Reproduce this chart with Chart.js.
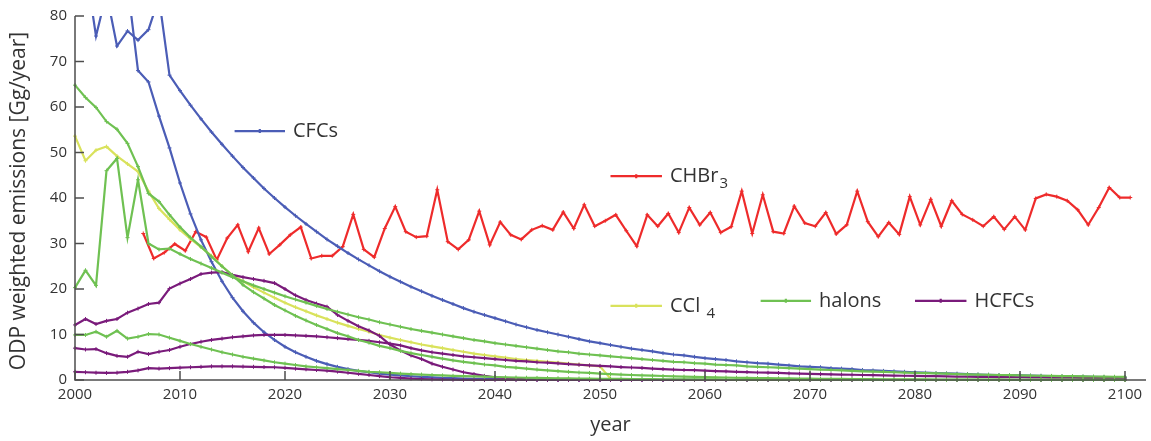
<!DOCTYPE html>
<html>
<head>
<meta charset="utf-8">
<script src="https://cdn.jsdelivr.net/npm/chart.js@4.4.1/dist/chart.umd.min.js"></script>
<style>
  html, body { margin: 0; padding: 0; background: #fff; }
  canvas { display: block; }
</style>
</head>
<body>
<canvas id="chart" width="1151" height="441"></canvas>
<script>
// ---------- data ----------
const years = [
  2000, 2001, 2002, 2003, 2004, 2005, 2006, 2007, 2008, 2009,
  2010, 2011, 2012, 2013, 2014, 2015, 2016, 2017, 2018, 2019,
  2020, 2021, 2022, 2023, 2024, 2025, 2026, 2027, 2028, 2029,
  2030, 2031, 2032, 2033, 2034, 2035, 2036, 2037, 2038, 2039,
  2040, 2041, 2042, 2043, 2044, 2045, 2046, 2047, 2048, 2049,
  2050, 2051, 2052, 2053, 2054, 2055, 2056, 2057, 2058, 2059,
  2060, 2061, 2062, 2063, 2064, 2065, 2066, 2067, 2068, 2069,
  2070, 2071, 2072, 2073, 2074, 2075, 2076, 2077, 2078, 2079,
  2080, 2081, 2082, 2083, 2084, 2085, 2086, 2087, 2088, 2089,
  2090, 2091, 2092, 2093, 2094, 2095, 2096, 2097, 2098, 2099,
  2100
];

const chbr3Years = [
  2006.5, 2007.5, 2008.5, 2009.5, 2010.5, 2011.5, 2012.5, 2013.5, 2014.5, 2015.5,
  2016.5, 2017.5, 2018.5, 2019.5, 2020.5, 2021.5, 2022.5, 2023.5, 2024.5, 2025.5,
  2026.5, 2027.5, 2028.5, 2029.5, 2030.5, 2031.5, 2032.5, 2033.5, 2034.5, 2035.5,
  2036.5, 2037.5, 2038.5, 2039.5, 2040.5, 2041.5, 2042.5, 2043.5, 2044.5, 2045.5,
  2046.5, 2047.5, 2048.5, 2049.5, 2050.5, 2051.5, 2052.5, 2053.5, 2054.5, 2055.5,
  2056.5, 2057.5, 2058.5, 2059.5, 2060.5, 2061.5, 2062.5, 2063.5, 2064.5, 2065.5,
  2066.5, 2067.5, 2068.5, 2069.5, 2070.5, 2071.5, 2072.5, 2073.5, 2074.5, 2075.5,
  2076.5, 2077.5, 2078.5, 2079.5, 2080.5, 2081.5, 2082.5, 2083.5, 2084.5, 2085.5,
  2086.5, 2087.5, 2088.5, 2089.5, 2090.5, 2091.5, 2092.5, 2093.5, 2094.5, 2095.5,
  2096.5, 2097.5, 2098.5, 2099.5, 2100.5
];

const chbr3 = [
  32.2, 26.7, 28.0, 29.9, 28.4, 32.6, 31.4, 26.4, 31.2, 34.1,
  28.2, 33.4, 27.7, 29.7, 31.9, 33.6, 26.7, 27.3, 27.3, 29.3,
  36.4, 28.7, 27.0, 33.3, 38.1, 32.6, 31.4, 31.6, 41.8, 30.4,
  28.7, 30.8, 37.1, 29.7, 34.7, 31.9, 30.9, 33.0, 33.9, 33.0,
  36.9, 33.3, 38.5, 33.8, 35.0, 36.3, 32.8, 29.4, 36.3, 33.8,
  36.6, 32.4, 37.9, 34.1, 36.8, 32.4, 33.7, 41.5, 32.2, 40.7,
  32.6, 32.2, 38.2, 34.5, 33.8, 36.8, 32.1, 34.1, 41.5, 34.8,
  31.5, 34.6, 32.0, 40.3, 34.1, 39.7, 33.8, 39.4, 36.4, 35.2,
  33.8, 35.9, 33.1, 35.9, 33.0, 39.9, 40.8, 40.3, 39.4, 37.4,
  34.1, 37.9, 42.3, 40.1, 40.1
];

const cfcSlow = [
  96, 91, 75.6, 85, 73.4, 76.7, 74.7, 77, 84, 67,
  63.6, 60.4, 57.4, 54.5, 51.8, 49.2, 46.7, 44.4, 42.1, 40.0,
  38.0, 36.1, 34.3, 32.6, 30.9, 29.4, 27.9, 26.5, 25.2, 23.9,
  22.7, 21.6, 20.5, 19.5, 18.5, 17.6, 16.7, 15.8, 15.0, 14.3,
  13.6, 12.9, 12.2, 11.6, 11.0, 10.5, 10.0, 9.5, 9.0, 8.5,
  8.1, 7.7, 7.3, 6.9, 6.6, 6.3, 5.9, 5.6, 5.4, 5.1,
  4.8, 4.6, 4.4, 4.1, 3.9, 3.7, 3.6, 3.4, 3.2, 3.0,
  2.9, 2.8, 2.6, 2.5, 2.4, 2.2, 2.1, 2.0, 1.9, 1.8,
  1.7, 1.6, 1.5, 1.45, 1.4, 1.3, 1.2, 1.15, 1.1, 1.05,
  1.0, 0.95, 0.9, 0.85, 0.8, 0.76, 0.72, 0.68, 0.65, 0.62,
  0.59
];

const cfcFast = [
  112, 108, 104, 100, 95, 87, 68, 65.5, 58, 51,
  43.3, 36.5, 30.8, 26.0, 21.7, 18.1, 15.1, 12.6, 10.5, 8.8,
  7.3, 6.1, 5.1, 4.2, 3.5, 2.9, 2.4, 2.0, 1.7, 1.4,
  1.2, 1.0, 0.83, 0.69, 0.58, 0.48, 0.4, 0.33, 0.28, 0.23,
  0.19, 0.16, 0.13, 0.11, 0.09, 0.08, 0.06, 0.05, 0.04, 0.04,
  0.03, 0.03, 0.02, 0.02, 0.02, 0.01, 0.01, 0.01, 0.01, 0.01,
  0, 0, 0, 0, 0, 0, 0, 0, 0, 0,
  0, 0, 0, 0, 0, 0, 0, 0, 0, 0,
  0, 0, 0, 0, 0, 0, 0, 0, 0, 0,
  0, 0, 0, 0, 0, 0, 0, 0, 0, 0,
  0
];

const ccl4 = [
  53.6, 48.2, 50.5, 51.3, 49.2, 47.5, 45.8, 41.5, 37.7, 35.3,
  33.0, 31.0, 29.2, 27.3, 25.0, 23.0, 21.7, 20.4, 19.2, 18.1,
  17.0, 16.0, 15.1, 14.2, 13.4, 12.6, 11.9, 11.2, 10.6, 9.9,
  9.3, 8.8, 8.3, 7.8, 7.4, 7.0, 6.6, 6.2, 5.8, 5.5,
  5.2, 4.9, 4.6, 4.4, 4.2, 4.0, 3.8, 3.6, 3.4, 3.2,
  3.0, 0.3
];

const halonA = [
  64.8, 62.1, 59.9, 56.8, 55.1, 52.0, 46.9, 41.0, 39.2, 36.3,
  33.6, 31.3, 29.3, 27.1, 25.0, 23.0, 20.9, 19.3, 17.9, 16.5,
  15.3, 14.1, 13.1, 12.1, 11.2, 10.3, 9.6, 8.8, 8.2, 7.5,
  7.0, 6.4, 5.9, 5.5, 5.1, 4.7, 4.3, 4.0, 3.7, 3.4,
  3.2, 2.9, 2.7, 2.5, 2.3, 2.1, 1.95, 1.8, 1.65, 1.55,
  1.4, 1.3, 1.2, 1.1, 1.0, 0.95, 0.88, 0.81, 0.75, 0.69,
  0.64, 0.59, 0.55, 0.5, 0.47, 0.43, 0.4, 0.37, 0.34, 0.31,
  0.29, 0.27, 0.25, 0.23, 0.21, 0.19, 0.18, 0.16, 0.15, 0.14,
  0.13, 0.12, 0.11, 0.1, 0.09, 0.09, 0.08, 0.07, 0.07, 0.06,
  0.06, 0.05, 0.05, 0.05, 0.04, 0.04, 0.04, 0.03, 0.03, 0.03,
  0.03
];

const halonB = [
  20.3, 24.1, 20.8, 46.0, 48.7, 31.3, 44.0, 30.0, 28.7, 28.9,
  27.7, 26.6, 25.6, 24.6, 23.6, 22.6, 21.7, 20.8, 20.0, 19.2,
  18.4, 17.7, 17.0, 16.3, 15.6, 15.0, 14.4, 13.8, 13.3, 12.7,
  12.2, 11.7, 11.2, 10.8, 10.4, 10.0, 9.6, 9.2, 8.8, 8.5,
  8.1, 7.8, 7.5, 7.2, 6.9, 6.6, 6.3, 6.1, 5.8, 5.6,
  5.4, 5.2, 5.0, 4.8, 4.6, 4.4, 4.2, 4.0, 3.9, 3.7,
  3.6, 3.4, 3.3, 3.2, 3.0, 2.9, 2.8, 2.7, 2.6, 2.5,
  2.4, 2.3, 2.2, 2.1, 2.0, 1.9, 1.85, 1.8, 1.7, 1.6,
  1.55, 1.5, 1.45, 1.4, 1.3, 1.25, 1.2, 1.15, 1.1, 1.05,
  1.0, 0.97, 0.93, 0.9, 0.86, 0.83, 0.8, 0.77, 0.74, 0.71,
  0.68
];

const halonC = [
  9.9, 9.9, 10.6, 9.5, 10.8, 9.1, 9.5, 10.1, 10.0, 9.3,
  8.6, 7.9, 7.3, 6.7, 6.1, 5.6, 5.1, 4.7, 4.3, 3.9,
  3.6, 3.3, 3.0, 2.8, 2.6, 2.4, 2.2, 2.0, 1.8, 1.7,
  1.55, 1.4, 1.3, 1.2, 1.1, 1.0, 0.92, 0.85, 0.78, 0.72,
  0.66, 0.6, 0.55, 0.5, 0.46, 0.42, 0.39, 0.36, 0.33, 0.3,
  0.28, 0.26, 0.24, 0.22, 0.2, 0.18, 0.17, 0.16, 0.15, 0.14,
  0.13, 0.12, 0.11, 0.1, 0.09, 0.09, 0.08, 0.08, 0.07, 0.07,
  0.06, 0.06, 0.05, 0.05, 0.05, 0.04, 0.04, 0.04, 0.03, 0.03,
  0.03, 0.03, 0.03, 0.02, 0.02, 0.02, 0.02, 0.02, 0.02, 0.02,
  0.01, 0.01, 0.01, 0.01, 0.01, 0.01, 0.01, 0.01, 0.01, 0.01,
  0.01
];

const hcfcA = [
  12.1, 13.4, 12.3, 13.0, 13.4, 14.8, 15.7, 16.7, 17.0, 20.1,
  21.2, 22.2, 23.3, 23.6, 23.7, 23.1, 22.6, 22.2, 21.8, 21.3,
  20.0, 18.6, 17.6, 16.8, 16.1, 14.3, 13.0, 11.8, 10.9, 9.7,
  7.8, 6.5, 5.4, 4.6, 3.6, 2.9, 2.3, 1.7, 1.3, 0.9,
  0.6, 0.4, 0.25, 0.15, 0.08, 0.03, 0, 0, 0, 0,
  0, 0, 0, 0, 0, 0, 0, 0, 0, 0,
  0, 0, 0, 0, 0, 0, 0, 0, 0, 0,
  0, 0, 0, 0, 0, 0, 0, 0, 0, 0,
  0, 0, 0, 0, 0, 0, 0, 0, 0, 0,
  0, 0, 0, 0, 0, 0, 0, 0, 0, 0,
  0
];

const hcfcB = [
  7.0, 6.7, 6.8, 5.9, 5.3, 5.1, 6.2, 5.7, 6.2, 6.6,
  7.3, 7.9, 8.4, 8.8, 9.1, 9.4, 9.6, 9.8, 9.9, 9.9,
  9.9, 9.8, 9.7, 9.6, 9.4, 9.2, 9.0, 8.8, 8.6, 8.3,
  8.0, 7.6, 7.0, 6.5, 6.1, 5.8, 5.5, 5.2, 5.0, 4.8,
  4.6, 4.4, 4.2, 4.1, 3.9, 3.8, 3.65, 3.5, 3.35, 3.2,
  3.1, 3.0, 2.85, 2.75, 2.65, 2.5, 2.4, 2.3, 2.2, 2.15,
  2.05, 1.95, 1.9, 1.8, 1.75, 1.65, 1.6, 1.55, 1.45, 1.4,
  1.35, 1.3, 1.25, 1.2, 1.15, 1.1, 1.05, 1.0, 0.97, 0.93,
  0.9, 0.86, 0.83, 0.8, 0.76, 0.73, 0.7, 0.68, 0.65, 0.62,
  0.6, 0.58, 0.55, 0.53, 0.51, 0.49, 0.47, 0.45, 0.43, 0.42,
  0.4
];

const hcfcC = [
  1.8, 1.7, 1.6, 1.55, 1.6, 1.8, 2.1, 2.6, 2.5, 2.6,
  2.7, 2.8, 2.9, 3.0, 3.0, 3.0, 2.95, 2.9, 2.85, 2.8,
  2.65, 2.5, 2.35, 2.2, 2.05, 1.85, 1.6, 1.35, 1.1, 0.85,
  0.6, 0.45, 0.3, 0.2, 0.12, 0.08, 0.05, 0.03, 0.02, 0.01,
  0.01, 0, 0, 0, 0, 0, 0, 0, 0, 0,
  0, 0, 0, 0, 0, 0, 0, 0, 0, 0,
  0, 0, 0, 0, 0, 0, 0, 0, 0, 0,
  0, 0, 0, 0, 0, 0, 0, 0, 0, 0,
  0, 0, 0, 0, 0, 0, 0, 0, 0, 0,
  0, 0, 0, 0, 0, 0, 0, 0, 0, 0,
  0
];

const xTicks = [2000, 2010, 2020, 2030, 2040, 2050, 2060, 2070, 2080, 2090, 2100];
const yTicks = [0, 10, 20, 30, 40, 50, 60, 70, 80];

const BLUE = "#4b5db6";
const RED = "#ee2b2b";
const YELLOW = "#d9e25c";
const GREEN = "#6fc152";
const PURPLE = "#7a1b7b";

// legend entries placed inside the plot, anchored in data units
const legendItems = [
  { label: "CFCs", sub: "", color: BLUE, x0: 2015.2, x1: 2020.0, y: 54.7 },
  { label: "CHBr", sub: "3", color: RED, x0: 2051.0, x1: 2055.9, y: 44.8 },
  { label: "CCl ", sub: "4", color: YELLOW, x0: 2051.0, x1: 2055.9, y: 16.3 },
  { label: "halons", sub: "", color: GREEN, x0: 2065.3, x1: 2070.1, y: 17.4 },
  { label: "HCFCs", sub: "", color: PURPLE, x0: 2080.0, x1: 2084.9, y: 17.4 }
];

function pts(xs, ys) {
  return ys.map((v, i) => ({ x: xs[i], y: v }));
}

function line(data, color) {
  return {
    data: data,
    borderColor: color,
    backgroundColor: color,
    borderWidth: 2.2,
    pointStyle: "cross",
    pointRadius: 2,
    pointBorderWidth: 1,
    pointBorderColor: color,
    tension: 0,
    fill: false,
    clip: { left: 3, right: 3, top: 0, bottom: 3 }
  };
}

// first dataset is drawn on top
const datasets = [
  line(pts(years, halonC), GREEN),
  line(pts(years, halonA), GREEN),
  line(pts(years, halonB), GREEN),
  line(pts(years, hcfcC), PURPLE),
  line(pts(years, hcfcB), PURPLE),
  line(pts(years, hcfcA), PURPLE),
  line(pts(years, ccl4), YELLOW),
  line(pts(years, cfcFast), BLUE),
  line(pts(years, cfcSlow), BLUE),
  line(pts(chbr3Years, chbr3), RED)
];

const FONT = "'Open Sans', 'DejaVu Sans', sans-serif";
const TEXT = "#333333";
const AXIS = "#4d4d4d";

// axes, inward ticks, titles and the inline legend
const decor = {
  id: "decor",
  afterDatasetsDraw(chart) {
    const ctx = chart.ctx;
    const xs = chart.scales.x;
    const ys = chart.scales.y;
    const a = chart.chartArea;
    ctx.save();

    ctx.strokeStyle = AXIS;
    ctx.lineWidth = 1.5;
    ctx.beginPath();
    ctx.moveTo(a.left, a.top);
    ctx.lineTo(a.left, a.bottom);
    ctx.lineTo(a.right, a.bottom);
    ctx.stroke();

    ctx.fillStyle = TEXT;
    ctx.font = "15px " + FONT;

    ctx.textAlign = "right";
    ctx.textBaseline = "middle";
    yTicks.forEach(v => {
      const py = ys.getPixelForValue(v);
      ctx.beginPath();
      ctx.moveTo(a.left, py);
      ctx.lineTo(a.left + 9, py);
      ctx.stroke();
      ctx.fillText(String(v), a.left - 8, py);
    });

    ctx.textAlign = "center";
    ctx.textBaseline = "middle";
    xTicks.forEach(v => {
      const px = xs.getPixelForValue(v);
      ctx.beginPath();
      ctx.moveTo(px, a.bottom);
      ctx.lineTo(px, a.bottom - 9);
      ctx.stroke();
      ctx.fillText(String(v), px, a.bottom + 15);
    });

    ctx.font = "20px " + FONT;
    ctx.fillText("year", (xs.getPixelForValue(2000) + a.right) / 2, 425);

    ctx.save();
    ctx.font = "21px " + FONT;
    ctx.translate(19, (a.top + a.bottom) / 2 + 3);
    ctx.rotate(-Math.PI / 2);
    ctx.fillText("ODP weighted emissions [Gg/year]", 0, 0);
    ctx.restore();

    legendItems.forEach(it => {
      const x0 = xs.getPixelForValue(it.x0);
      const x1 = xs.getPixelForValue(it.x1);
      const y = ys.getPixelForValue(it.y);
      ctx.strokeStyle = it.color;
      ctx.lineWidth = 2.2;
      ctx.beginPath();
      ctx.moveTo(x0, y);
      ctx.lineTo(x1, y);
      ctx.moveTo((x0 + x1) / 2, y - 2);
      ctx.lineTo((x0 + x1) / 2, y + 2);
      ctx.stroke();

      ctx.fillStyle = TEXT;
      ctx.textAlign = "left";
      ctx.textBaseline = "middle";
      ctx.font = "20px " + FONT;
      const tx = x1 + 8;
      ctx.fillText(it.label, tx, y);
      if (it.sub) {
        const w = ctx.measureText(it.label).width;
        ctx.font = "15px " + FONT;
        ctx.fillText(it.sub, tx + w + 1, y + 8);
      }
    });

    ctx.restore();
  }
};

new Chart(document.getElementById("chart"), {
  type: "line",
  data: { datasets: datasets },
  options: {
    responsive: false,
    animation: false,
    events: [],
    layout: { padding: { left: 75, right: 4, top: 16, bottom: 61 } },
    plugins: { legend: { display: false }, tooltip: { enabled: false } },
    scales: {
      x: { type: "linear", min: 2000, max: 2102, display: false },
      y: { type: "linear", min: 0, max: 80, display: false }
    }
  },
  plugins: [decor]
});
</script>
</body>
</html>
